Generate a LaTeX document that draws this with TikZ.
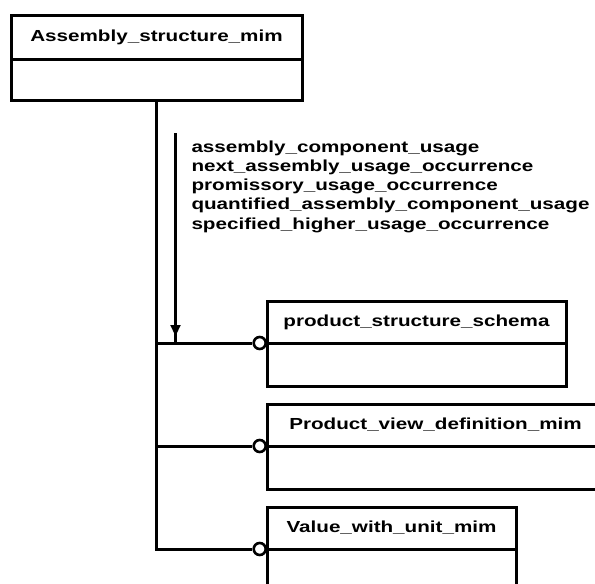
\documentclass[tikz,border=0pt]{standalone}
\usepackage{fontspec}
\newfontfamily\diagfont[FakeStretch=1.29]{Liberation Sans Bold}
\usetikzlibrary{positioning,arrows.meta}

\begin{document}
\begin{tikzpicture}[x=1pt,y=-1pt,line width=3pt,
    classtitle/.style={draw,outer sep=0pt,inner sep=0pt,minimum height=42pt,
      font=\diagfont\fontsize{16}{19.3}\selectfont},
    classbody/.style={draw,outer sep=0pt,inner sep=0pt,minimum height=43pt},
    endring/.style={circle,draw,line width=2.6pt,inner sep=0pt,minimum size=12pt,anchor=east}]
   \useasboundingbox (0,0) rectangle (595,584);
   \clip (0,0) rectangle (595,584);
   % classes
   \node (asm) [classtitle,minimum width=291pt,minimum height=44pt] at (156.5,37) {Assembly\_structure\_mim};
   \node (asmbody) [classbody,minimum width=291pt,minimum height=41pt,below=0pt of asm] {};
   \node (pss) [classtitle,minimum width=299pt] at (416.5,322) {product\_structure\_schema};
   \node (pssbody) [classbody,minimum width=299pt,below=0pt of pss] {};
   \node (pvd) [classtitle,minimum width=337pt] at (435.5,425) {Product\_view\_definition\_mim};
   \node (pvdbody) [classbody,minimum width=337pt,below=0pt of pvd] {};
   \node (vwu) [classtitle,minimum width=249pt] at (391.5,528) {Value\_with\_unit\_mim};
   \node (vwubody) [classbody,minimum width=249pt,below=0pt of vwu] {};
   % interface rings
   \node (pssend) [endring] at (pss.south west) {};
   \node (pvdend) [endring] at (pvd.south west) {};
   \node (vwuend) [endring] at (vwu.south west) {};
   % links
   \draw (asmbody.south) |- (vwuend.west);
   \draw (asmbody.south |- pssend.west) -- (pssend.west);
   \draw (asmbody.south |- pvdend.west) -- (pvdend.west);
   \coordinate (usetop) at (175.5,133);
   \draw [line width=2.2pt] (usetop) -- (usetop |- pssend.west);
   \draw [line width=2.2pt,-{Triangle[length=11pt,width=10pt]}] (usetop) -- ++(0,203);
   \node (usages) [anchor=north west,align=left,inner sep=0pt,
      font=\diagfont\fontsize{16}{19.3}\selectfont] at (190,139)
      {assembly\_component\_usage\\
       next\_assembly\_usage\_occurrence\\
       promissory\_usage\_occurrence\\
       quantified\_assembly\_component\_usage\\
       specified\_higher\_usage\_occurrence};
\end{tikzpicture}
\end{document}
